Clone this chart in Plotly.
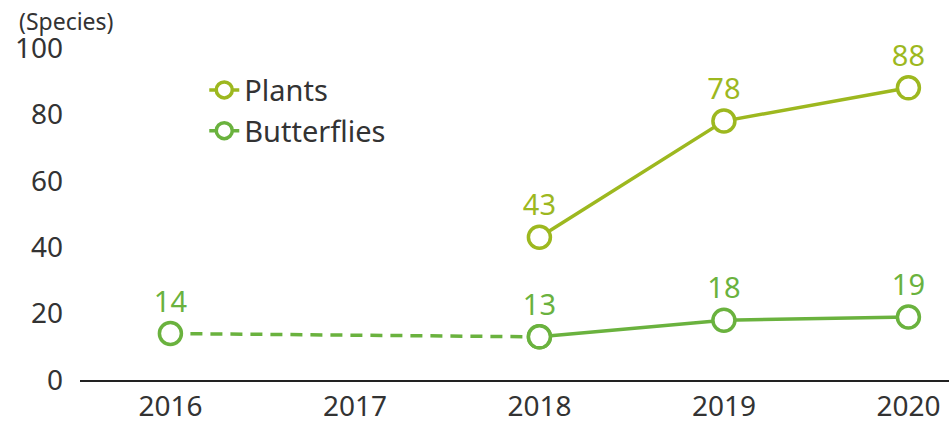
import plotly.graph_objects as go

years = [2016, 2017, 2018, 2019, 2020]
tick_labels = ["2016", "2017", "2018", "2019", "2020"]

plants_x = [2018, 2019, 2020]
plants_y = [43, 78, 88]

butterflies_dashed_x = [2016, 2018]
butterflies_dashed_y = [14, 13]
butterflies_x = [2018, 2019, 2020]
butterflies_y = [13, 18, 19]

y_ticks = [0, 20, 40, 60, 80, 100]

PLANT_C = "#9db81f"
BUTTER_C = "#6ab23e"
FONT = "Noto Sans"
TEXT_C = "#333333"
LABEL_SIZE = 29


def marker(color):
    return dict(size=22, symbol="circle", color="white", line=dict(width=3.5, color=color))


fig = go.Figure()

# dashed segment: the shared 2018 point is labelled by the solid series
dashed_text = [str(v) for v in butterflies_dashed_y[:-1]] + [""]

fig.add_trace(go.Scatter(
    x=butterflies_dashed_x, y=butterflies_dashed_y,
    mode="lines+markers+text",
    text=dashed_text,
    textposition="top center",
    textfont=dict(color=BUTTER_C, size=LABEL_SIZE, family=FONT),
    line=dict(color=BUTTER_C, width=3.5, dash="12px,8px"),
    marker=marker(BUTTER_C),
    showlegend=False, cliponaxis=False,
))

fig.add_trace(go.Scatter(
    x=plants_x, y=plants_y, name="Plants",
    mode="lines+markers+text",
    text=[str(v) for v in plants_y],
    textposition="top center",
    textfont=dict(color=PLANT_C, size=LABEL_SIZE, family=FONT),
    line=dict(color=PLANT_C, width=3.5),
    marker=marker(PLANT_C),
    cliponaxis=False,
))

fig.add_trace(go.Scatter(
    x=butterflies_x, y=butterflies_y, name="Butterflies",
    mode="lines+markers+text",
    text=[str(v) for v in butterflies_y],
    textposition="top center",
    textfont=dict(color=BUTTER_C, size=LABEL_SIZE, family=FONT),
    line=dict(color=BUTTER_C, width=3.5),
    marker=marker(BUTTER_C),
    cliponaxis=False,
))

fig.update_layout(
    width=949, height=422,
    margin=dict(l=80, r=0, t=48, b=42),
    paper_bgcolor="white", plot_bgcolor="white",
    font=dict(family=FONT, color=TEXT_C, size=26),
    showlegend=True,
    legend=dict(
        x=0.143, y=0.95, xanchor="left", yanchor="top",
        font=dict(size=29, color=TEXT_C, family=FONT),
        bgcolor="rgba(0,0,0,0)", itemwidth=30,
    ),
    xaxis=dict(
        range=[2015.51, 2020.22],
        tickmode="array", tickvals=years, ticktext=tick_labels,
        showgrid=False, zeroline=False,
        showline=True, linecolor="#222222", linewidth=2,
        ticks="", tickfont=dict(size=28, color=TEXT_C, family=FONT),
        ticklabelstandoff=0, automargin=False,
    ),
    yaxis=dict(
        range=[0, 100],
        tickmode="array", tickvals=y_ticks,
        showgrid=False, zeroline=False, showline=False,
        ticks="", tickfont=dict(size=28, color=TEXT_C, family=FONT),
        ticklabelstandoff=16, automargin=False,
    ),
    annotations=[dict(
        text="(Species)", xref="paper", yref="paper",
        x=-0.073, y=1.0, xanchor="left", yanchor="middle", yshift=27,
        showarrow=False, font=dict(size=23, color=TEXT_C, family=FONT),
    )],
)

fig.write_html(
    "out.html",
    config={"displayModeBar": False},
    post_script="document.body.style.margin='0';document.body.style.overflow='hidden';",
)
